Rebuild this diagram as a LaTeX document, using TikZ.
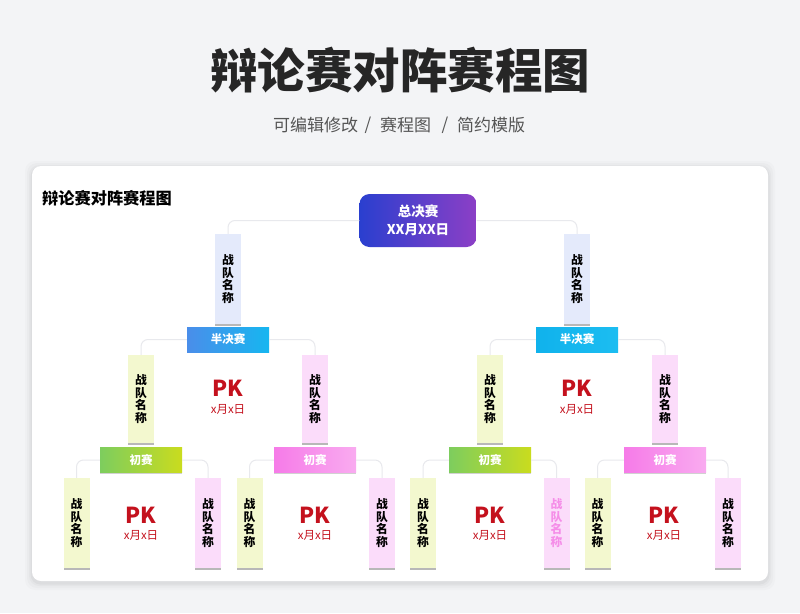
\documentclass[tikz,border=0pt]{standalone}
\usepackage{fontspec}
\setmainfont{Noto Sans CJK SC}
\usetikzlibrary{shadows}
\definecolor{bgc}{HTML}{F3F4F6}
\definecolor{linec}{HTML}{E8E9ED}
\definecolor{teamblue}{HTML}{E4EAFB}
\definecolor{teamyellow}{HTML}{F3F8CF}
\definecolor{teampink}{HTML}{FBDCFA}
\definecolor{pkred}{HTML}{C4111D}
\definecolor{pinktext}{HTML}{F58DE8}
\definecolor{titlec}{HTML}{262626}
\definecolor{subc}{HTML}{555555}
\definecolor{semiA}{HTML}{4A8EEA}
\definecolor{semiB}{HTML}{16B6F0}
\definecolor{semiC}{HTML}{10B2EC}
\definecolor{semiD}{HTML}{1CBDF1}
\definecolor{greenA}{HTML}{7DCD5E}
\definecolor{greenB}{HTML}{CADC1E}
\definecolor{pinkA}{HTML}{F67BE8}
\definecolor{pinkB}{HTML}{F9ABF0}
\definecolor{finA}{HTML}{2A3FCF}
\definecolor{finB}{HTML}{8C3FC6}
\begin{document}
\begin{tikzpicture}[x=1pt,y=-1pt,
  conn/.style={draw=linec, line width=1pt, rounded corners=7pt},
  team/.style={rectangle, minimum width=26pt, minimum height=90pt, inner sep=0pt,
    font=\fontsize{11.8}{12.8}\selectfont\bfseries, align=center, text=black,
    drop shadow={shadow xshift=0pt, shadow yshift=-2pt, fill=black!55, opacity=0.5}},
  tblue/.style={team, fill=teamblue},
  tyellow/.style={team, fill=teamyellow},
  tpink/.style={team, fill=teampink},
  final/.style={rectangle, rounded corners=10pt, minimum width=117pt, minimum height=53pt,
    left color=finA, right color=finB, inner sep=0pt,
    text=white, font=\fontsize{13.5}{18}\selectfont\bfseries, align=center},
  stage/.style={rectangle, minimum width=82pt, minimum height=25pt, inner sep=0pt,
    text=white, font=\fontsize{11.5}{12}\selectfont\bfseries},
  semibox/.style={stage, left color=semiA, right color=semiB},
  semiboxr/.style={stage, left color=semiC, right color=semiD},
  roundg/.style={stage, left color=greenA, right color=greenB,
    drop shadow={shadow xshift=0pt, shadow yshift=-1.5pt, fill=black!40, opacity=0.45}},
  roundp/.style={stage, left color=pinkA, right color=pinkB,
    drop shadow={shadow xshift=0pt, shadow yshift=-1.5pt, fill=black!40, opacity=0.45}},
  pk/.style={text=pkred, font=\fontsize{22}{24}\selectfont\bfseries, inner sep=0pt},
  pkdate/.style={text=pkred, font=\fontsize{11.5}{13}\selectfont, inner sep=0pt}
]
% background
\fill[bgc] (0,0) rectangle (800,613);
\useasboundingbox (0,0) rectangle (800,613);
% card with soft shadow
\foreach \d/\o in {7/0.015,5/0.02,3/0.025,1.5/0.03}{
  \fill[black, opacity=\o, rounded corners=10pt] (32-\d,166-\d+2) rectangle (768+\d,581+\d+2);
}
\fill[white, rounded corners=9pt] (32,166) rectangle (768,581);
% titles
\node[text=titlec, font=\fontsize{47.5}{52}\selectfont\bfseries, inner sep=0pt] (title) at (400,70) {辩论赛对阵赛程图};
\node[text=subc, font=\fontsize{17}{20}\selectfont, inner sep=0pt, anchor=west] (sub1) at (273,125) {可编辑修改};
\node[text=subc, font=\fontsize{17}{20}\selectfont, inner sep=0pt] (sub2) at (368,125) {/};
\node[text=subc, font=\fontsize{17}{20}\selectfont, inner sep=0pt, anchor=west] (sub3) at (380,125) {赛程图};
\node[text=subc, font=\fontsize{17}{20}\selectfont, inner sep=0pt] (sub4) at (445,125) {/};
\node[text=subc, font=\fontsize{17}{20}\selectfont, inner sep=0pt, anchor=west] (sub5) at (457,125) {简约模版};
\node[text=black, font=\fontsize{16.2}{18}\selectfont\bfseries, inner sep=0pt, anchor=west] (ctitle) at (42,198) {辩论赛对阵赛程图};
% nodes
\node[final] (F) at (418,220.5) {总决赛\\XX月XX日};
\node[tblue] (T1L) at (228,279) {战\\队\\名\\称};
\node[tblue] (T1R) at (577,279) {战\\队\\名\\称};
\node[semibox] (SL) at (228,339.5) {半决赛};
\node[semiboxr] (SR) at (577,339.5) {半决赛};
\node[tyellow, minimum height=88pt] (T2a) at (141,399) {战\\队\\名\\称};
\node[tpink, minimum height=88pt] (T2b) at (315,399) {战\\队\\名\\称};
\node[tyellow, minimum height=88pt] (T2c) at (490,399) {战\\队\\名\\称};
\node[tpink, minimum height=88pt] (T2d) at (665,399) {战\\队\\名\\称};
\node[roundg] (C1) at (141,460) {初赛};
\node[roundp] (C2) at (315,460) {初赛};
\node[roundg] (C3) at (490,460) {初赛};
\node[roundp] (C4) at (665,460) {初赛};
\node[tyellow] (T3a) at (76.5,523) {战\\队\\名\\称};
\node[tpink] (T3b) at (208,523) {战\\队\\名\\称};
\node[tyellow] (T3c) at (249.5,523) {战\\队\\名\\称};
\node[tpink] (T3d) at (382,523) {战\\队\\名\\称};
\node[tyellow] (T3e) at (423,523) {战\\队\\名\\称};
\node[tpink, text=pinktext] (T3f) at (556.5,523) {战\\队\\名\\称};
\node[tyellow] (T3g) at (597.5,523) {战\\队\\名\\称};
\node[tpink] (T3h) at (728,523) {战\\队\\名\\称};
% connectors
\draw[conn] (F.west) -| (T1L.north);
\draw[conn] (F.east) -| (T1R.north);
\draw[conn] (SL.west) -| (T2a.north);
\draw[conn] (SL.east) -| (T2b.north);
\draw[conn] (SR.west) -| (T2c.north);
\draw[conn] (SR.east) -| (T2d.north);
\draw[conn] (C1.west) -| (T3a.north);
\draw[conn] (C1.east) -| (T3b.north);
\draw[conn] (C2.west) -| (T3c.north);
\draw[conn] (C2.east) -| (T3d.north);
\draw[conn] (C3.west) -| (T3e.north);
\draw[conn] (C3.east) -| (T3f.north);
\draw[conn] (C4.west) -| (T3g.north);
\draw[conn] (C4.east) -| (T3h.north);
% PK labels
\node[pk] (PK1) at (228,388) {PK};
\node[pkdate] (D1) at (228,409) {x月x日};
\node[pk] (PK2) at (577,388) {PK};
\node[pkdate] (D2) at (577,409) {x月x日};
\node[pk] (PK3) at (141,515) {PK};
\node[pkdate] (D3) at (141,535) {x月x日};
\node[pk] (PK4) at (315,515) {PK};
\node[pkdate] (D4) at (315,535) {x月x日};
\node[pk] (PK5) at (490,515) {PK};
\node[pkdate] (D5) at (490,535) {x月x日};
\node[pk] (PK6) at (664,515) {PK};
\node[pkdate] (D6) at (664,535) {x月x日};
\end{tikzpicture}
\end{document}
